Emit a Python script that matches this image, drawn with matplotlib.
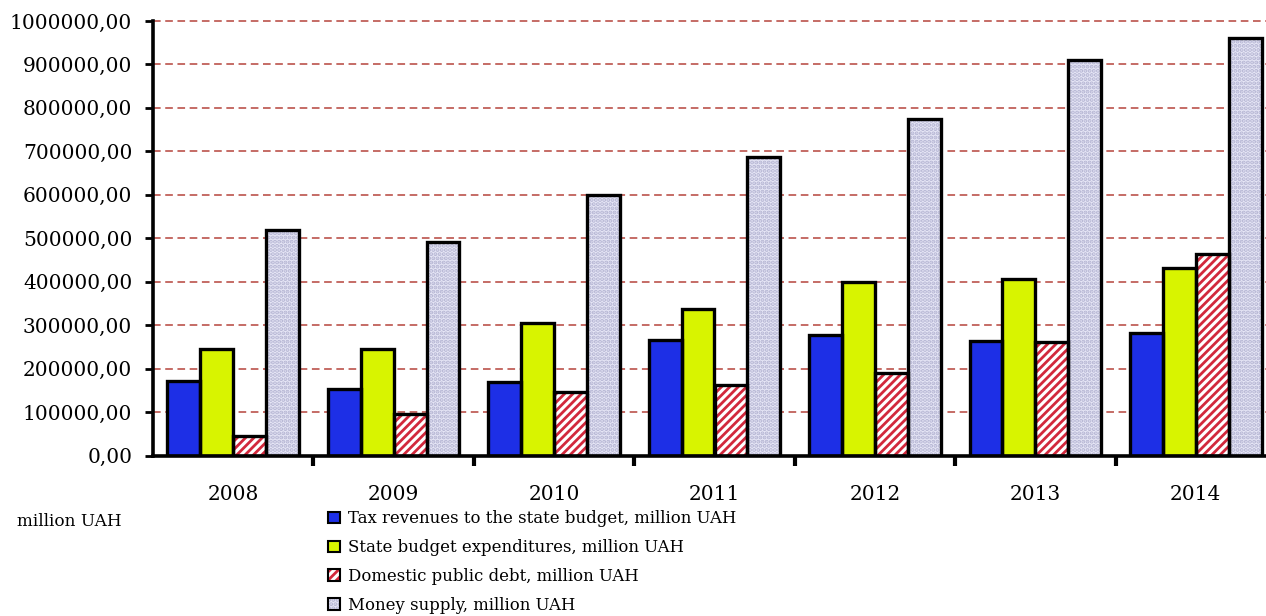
#!/usr/bin/env python3
"""Budget indicators of Ukraine 2008-2014, grouped bar chart."""

import matplotlib
import matplotlib.pyplot as plt
import numpy as np
from matplotlib.patches import Rectangle
from matplotlib.ticker import FuncFormatter, MultipleLocator

matplotlib.use("Agg")

years = ["2008", "2009", "2010", "2011", "2012", "2013", "2014"]
tax_revenues = [172000, 153000, 170000, 266000, 277000, 264000, 282000]
budget_expenditures = [246000, 246000, 305000, 337000, 399000, 406000, 432000]
public_debt = [46000, 96000, 145000, 162000, 191000, 261000, 464000]
money_supply = [519000, 491000, 600000, 688000, 775000, 911000, 962000]

series_labels = [
    "Tax revenues to the state budget, million UAH",
    "State budget expenditures, million UAH",
    "Domestic public debt, million UAH",
    "Money supply, million UAH",
]

plt.rcParams["font.family"] = ["DejaVu Serif"]
plt.rcParams["hatch.linewidth"] = 2.0

W, H = 1266, 616
fig = plt.figure(figsize=(W / 100, H / 100), dpi=100)
ax = fig.add_axes([153 / W, 1 - 455.5 / H, (1276 - 153) / W, (455.5 - 21) / H])

x = np.arange(len(years))
width = 0.205
styles = [
    dict(color="#1d2fe6", hatch=None, hcolor="black"),
    dict(color="#d8f400", hatch=None, hcolor="black"),
    dict(color="white", hatch="////", hcolor="#d2283c"),
    dict(color="#e6e6f6", hatch="....", hcolor="#b4b4d2"),
]
data = [tax_revenues, budget_expenditures, public_debt, money_supply]

for i, (vals, st) in enumerate(zip(data, styles)):
    xs = x + (i - 1.5) * width
    # hatch layer, then a black outline on top
    ax.bar(xs, vals, width, color=st["color"], edgecolor=st["hcolor"],
           hatch=st["hatch"], linewidth=0, zorder=3)
    ax.bar(xs, vals, width, fill=False, edgecolor="black", linewidth=2.4,
           zorder=4)

ax.set_xlim(-0.5, 6.5)
ax.set_ylim(0, 1000000)
ax.yaxis.set_major_locator(MultipleLocator(100000))
ax.yaxis.set_major_formatter(
    FuncFormatter(lambda v, _: f"{v:.2f}".replace(".", ","))
)
ax.grid(axis="y", color="#b5443c", linestyle=(0, (5, 3)), linewidth=1.1,
        zorder=1)
for gl in ax.get_ygridlines():
    gl.set_clip_on(False)

ax.set_xticks(x)
ax.set_xticklabels(years)
ax.set_xticks(np.arange(0.5, 6.5, 1), minor=True)
ax.tick_params(axis="x", which="major", length=0, pad=21, labelsize=14.5)
ax.tick_params(axis="x", which="minor", length=7, width=3, direction="out")
ax.tick_params(axis="y", length=6, width=2, direction="out", pad=9,
               labelsize=14.5)

for s in ["top", "right"]:
    ax.spines[s].set_visible(False)
for s in ["left", "bottom"]:
    ax.spines[s].set_linewidth(2.6)
    ax.spines[s].set_zorder(5)

fig.text(17 / W, 1 - 522 / H, "million UAH", fontsize=12.2, va="center",
         ha="left")

handles = []
for st in styles:
    fill = Rectangle((0, 0), 1, 1, facecolor=st["color"],
                     edgecolor=st["hcolor"], linewidth=0, hatch=st["hatch"])
    edge = Rectangle((0, 0), 1, 1, fill=False, edgecolor="black",
                     linewidth=1.5)
    handles.append((fill, edge))
fig.legend(handles, series_labels, loc="upper left",
           bbox_to_anchor=(320 / W, 1 - 502 / H), frameon=False,
           fontsize=11.9, handlelength=0.7, handleheight=0.7,
           handletextpad=0.5, labelspacing=0.72, borderpad=0)

fig.savefig("out.png", dpi=100)
